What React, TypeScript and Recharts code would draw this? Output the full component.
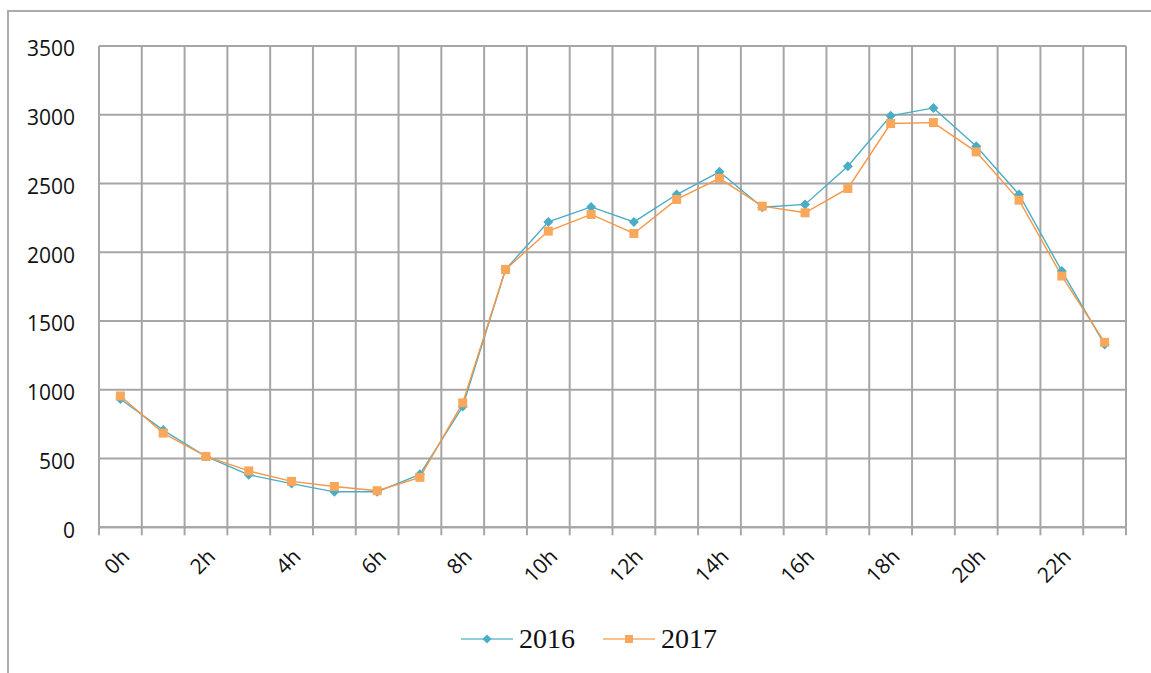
import { CartesianGrid, Legend, Line, LineChart, XAxis, YAxis } from 'recharts';

const HOURS = [
  '0h', '1h', '2h', '3h', '4h', '5h', '6h', '7h', '8h', '9h', '10h', '11h',
  '12h', '13h', '14h', '15h', '16h', '17h', '18h', '19h', '20h', '21h', '22h', '23h',
];

const VALUES_2016 = [
  933, 707, 515, 382, 318, 258, 258, 385, 878, 1875, 2221, 2330,
  2221, 2420, 2585, 2328, 2348, 2626, 2992, 3050, 2771, 2420, 1863, 1330,
];

const VALUES_2017 = [
  955, 685, 515, 410, 334, 297, 266, 363, 905, 1875, 2154, 2275,
  2137, 2384, 2537, 2335, 2287, 2464, 2936, 2943, 2730, 2379, 1827, 1345,
];

const Y_TICKS = [0, 500, 1000, 1500, 2000, 2500, 3000, 3500];

const BLUE = '#4bacc6';
const ORANGE = '#f79646';
const GRID = '#a6a6a6';
const TICK_FONT = '"Open Sans", "Noto Sans", sans-serif';

const rows = HOURS.map((hour, i) => ({
  hour,
  pos: i + 0.5,
  y2016: VALUES_2016[i],
  y2017: VALUES_2017[i],
}));

const boundaryTicks = HOURS.map((_, i) => i).concat(HOURS.length);
const labelTicks = rows.filter((_, i) => i % 2 === 0).map((r) => r.pos);

function Diamond(props: any) {
  const { cx, cy, index } = props;
  if (cx == null || cy == null) return null;
  const r = 5;
  return (
    <polygon
      key={`d-${index}`}
      points={`${cx},${cy - r} ${cx + r},${cy} ${cx},${cy + r} ${cx - r},${cy}`}
      fill={BLUE}
    />
  );
}

function Square(props: any) {
  const { cx, cy, index } = props;
  if (cx == null || cy == null) return null;
  const s = 4.5;
  return <rect key={`s-${index}`} x={cx - s} y={cy - s} width={s * 2} height={s * 2} fill="#f9a75a" />;
}

function EmptyTick() {
  return <g />;
}

function LegendBox() {
  const items = [
    { name: '2016', color: BLUE, marker: 'diamond' },
    { name: '2017', color: ORANGE, marker: 'square' },
  ];
  return (
    <div style={{ display: 'flex', alignItems: 'center', gap: 28 }}>
      {items.map((item) => (
        <div key={item.name} style={{ display: 'flex', alignItems: 'center' }}>
          <svg width={52} height={20} style={{ marginRight: 6 }}>
            <line x1={0} y1={10} x2={52} y2={10} stroke={item.color} strokeOpacity={0.6} strokeWidth={2} />
            {item.marker === 'diamond' ? (
              <polygon points="26,5.5 30.5,10 26,14.5 21.5,10" fill={item.color} />
            ) : (
              <rect x={22} y={6} width={8} height={8} fill="#f9a75a" />
            )}
          </svg>
          <span style={{ fontFamily: '"Liberation Serif", serif', fontSize: 28, color: '#111', lineHeight: 1 }}>
            {item.name}
          </span>
        </div>
      ))}
    </div>
  );
}

export default function App() {
  return (
    <div style={{ position: 'fixed', left: 0, top: 0, width: 1151, height: 673, background: '#fff', overflow: 'hidden' }}>
      <div
        style={{
          position: 'absolute',
          left: 7,
          top: 10,
          width: 1200,
          height: 700,
          border: '2px solid #acacac',
        }}
      />
      <div style={{ position: 'absolute', left: 0, top: 0 }}>
        <LineChart width={1151} height={673} data={rows} margin={{ top: 46, right: 25, left: 19, bottom: 85.7 }}>
          <CartesianGrid xAxisId="grid" stroke={GRID} strokeWidth={2} />
          <XAxis
            xAxisId="grid"
            type="number"
            dataKey="pos"
            domain={[0, HOURS.length]}
            ticks={boundaryTicks}
            tick={<EmptyTick />}
            tickSize={8}
            height={8}
            interval={0}
            stroke={GRID}
            strokeWidth={2}
            tickLine={{ stroke: GRID, strokeWidth: 2 }}
            allowDataOverflow
          />
          <XAxis
            xAxisId="label"
            type="number"
            dataKey="pos"
            domain={[0, HOURS.length]}
            ticks={labelTicks}
            tickFormatter={(v: number) => HOURS[Math.floor(v)]}
            axisLine={false}
            tickLine={false}
            height={52}
            angle={-45}
            textAnchor="end"
            interval={0}
            tickMargin={6}
            tick={{ fill: '#111', fontSize: 21, fontFamily: TICK_FONT }}
            allowDataOverflow
          />
          <YAxis
            domain={[0, 3500]}
            ticks={Y_TICKS}
            width={80}
            axisLine={false}
            tickLine={false}
            tickMargin={18}
            interval={0}
            tick={{ fill: '#111', fontSize: 21, fontFamily: TICK_FONT, dy: 3 }}
          />
          <Line
            xAxisId="grid"
            dataKey="y2016"
            name="2016"
            stroke={BLUE}
            strokeWidth={1.4}
            dot={Diamond}
            activeDot={false}
            isAnimationActive={false}
          />
          <Line
            xAxisId="grid"
            dataKey="y2017"
            name="2017"
            stroke={ORANGE}
            strokeWidth={1.4}
            dot={Square}
            activeDot={false}
            isAnimationActive={false}
          />
          <Legend
            verticalAlign="middle"
            align="center"
            content={<LegendBox />}
            wrapperStyle={{ left: 461, top: 625 }}
          />
        </LineChart>
      </div>
    </div>
  );
}
